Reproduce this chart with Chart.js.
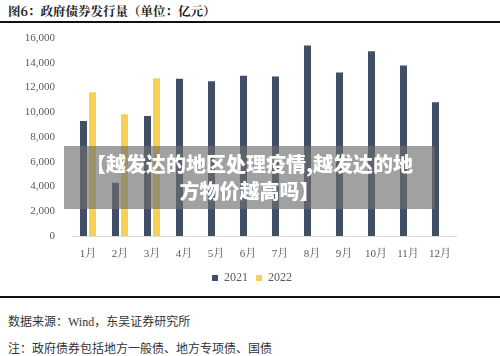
<!DOCTYPE html>
<html>
<head>
<meta charset="utf-8">
<script src="https://cdn.jsdelivr.net/npm/chart.js@4/dist/chart.umd.min.js"></script>
<style>
  html,body{margin:0;padding:0;background:#fff;}
  body{width:500px;height:356px;position:relative;overflow:hidden;font-family:"Noto Sans CJK SC",sans-serif;}
  #title{position:absolute;left:8px;top:2px;font-size:12.5px;color:#222;font-weight:bold;font-family:"Noto Serif CJK SC","Noto Sans CJK SC",serif;white-space:nowrap;}
  .rule{position:absolute;left:0;width:500px;height:2px;background:#111;}
  #wrap{position:absolute;left:0;top:0;width:500px;height:300px;}
  .foot{position:absolute;left:8px;font-size:12px;color:#333;white-space:nowrap;font-family:"Liberation Serif","Noto Sans CJK SC",serif;}
  #overlay{position:absolute;left:64px;top:146px;width:371px;height:63px;background:rgba(110,110,110,0.65);color:#fff;font-weight:900;font-size:20px;line-height:27px;text-align:center;padding-top:4px;box-sizing:border-box;font-family:"Noto Sans CJK SC",sans-serif;white-space:nowrap;}
</style>
</head>
<body>
<div id="title">图6：政府债券发行量（单位：亿元）</div>
<div class="rule" style="top:21px;"></div>
<div id="wrap"><canvas id="c"></canvas></div>
<div class="rule" style="top:296px;"></div>
<div class="foot" style="top:312px;">数据来源：Wind，东吴证券研究所</div>
<div class="foot" style="top:339px;">注：政府债券包括地方一般债、地方专项债、国债</div>
<div id="overlay">【越发达的地区处理疫情,越发达的地<br>方物价越高吗】</div>
<script>
const categories = ["1月","2月","3月","4月","5月","6月","7月","8月","9月","10月","11月","12月"];
const series2021 = [9300, 4300, 9700, 12700, 12500, 12950, 12880, 15400, 13220, 14930, 13780, 10800];
const series2022 = [11620, 9840, 12740, null, null, null, null, null, null, null, null, null];
const yTicks = [0, 2000, 4000, 6000, 8000, 10000, 12000, 14000, 16000];

const serif = "'Liberation Serif','Noto Serif CJK SC','Noto Sans CJK SC',serif";
const shiftLegend = {
  id: 'shiftLegend',
  afterLayout(chart) {
    const l = chart.legend;
    if (l) { l.left += 24; l.right += 24; }
  }
};
new Chart(document.getElementById('c'), {
  type: 'bar',
  data: {
    labels: categories,
    datasets: [
      {label: '2021', data: series2021, backgroundColor: '#414f66', categoryPercentage: 0.5625, barPercentage: 0.78},
      {label: '2022', data: series2022, backgroundColor: '#f7d155', categoryPercentage: 0.5625, barPercentage: 0.78}
    ]
  },
  plugins: [shiftLegend],
  options: {
    responsive: true,
    maintainAspectRatio: false,
    animation: false,
    layout: {padding: {top: 38, right: 44, left: 0, bottom: 6}},
    plugins: {
      tooltip: {enabled: false},
      legend: {
        position: 'bottom',
        labels: {boxWidth: 6, boxHeight: 6, padding: 8, color: '#595959', font: {family: serif, size: 12}}
      }
    },
    scales: {
      x: {
        grid: {display: false},
        border: {display: true, color: '#d9d9d9', width: 1},
        ticks: {color: '#595959', font: {family: serif, size: 11}, padding: 4, maxRotation: 0},
        afterFit: s => { s.height = 28; }
      },
      y: {
        min: 0, max: 16000,
        afterBuildTicks: s => { s.ticks = yTicks.map(v => ({value: v})); },
        grid: {display: false},
        border: {display: false},
        ticks: {color: '#595959', font: {family: serif, size: 11}, padding: 9,
          callback: v => v.toLocaleString('en-US')},
        afterFit: s => { s.width = 72; }
      }
    }
  }
});
</script>
</body>
</html>
